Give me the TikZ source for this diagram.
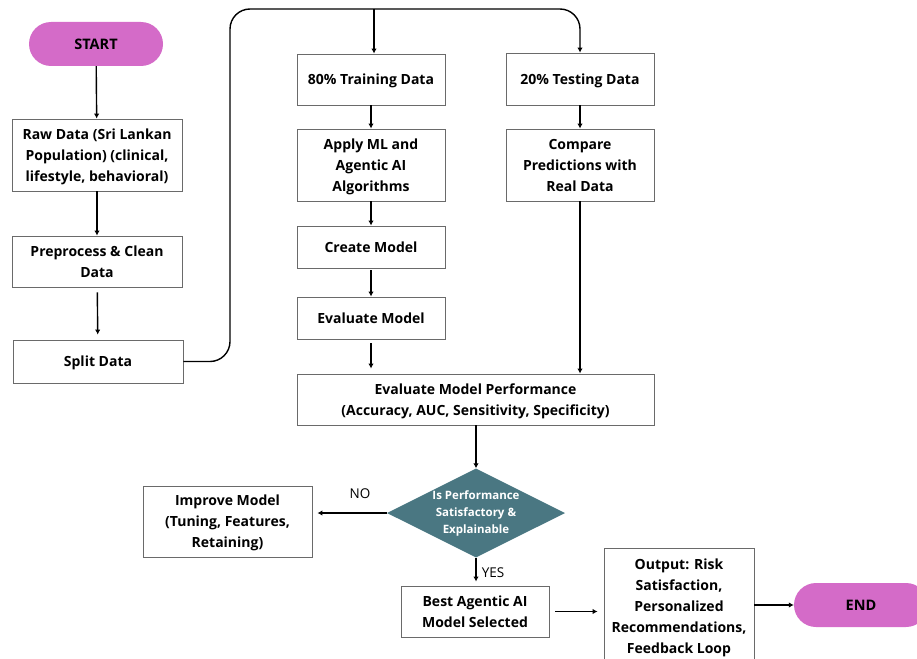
\documentclass[tikz,border=0pt]{standalone}
\usepackage{fontspec}
\setmainfont{Open Sans}
\usetikzlibrary{arrows.meta,positioning,calc,shapes.geometric}
\definecolor{pill}{HTML}{D46BC8}
\definecolor{deep}{HTML}{4A7782}
\definecolor{frame}{HTML}{6A6A6A}

\begin{document}
\begin{tikzpicture}[x=1pt,y=-1pt,>={Latex[length=5pt,width=5.5pt]},
  stepbox/.style={draw=frame,line width=0.9pt,align=center,inner sep=0pt,text depth=0pt,font=\fontsize{14}{21}\selectfont\bfseries},
  term/.style={fill=pill,rounded corners=22pt,minimum width=134,minimum height=44,inner sep=0pt,font=\fontsize{14.5}{16}\selectfont\bfseries},
  decision/.style={diamond,aspect=2,fill=deep,text=white,align=center,inner sep=0pt,minimum width=178,minimum height=89,font=\fontsize{11.5}{17}\selectfont\bfseries},
  flow/.style={->,line width=1.4pt},
  tag/.style={font=\fontsize{13.5}{15}\selectfont}]
  \clip (0,0) rectangle (917,658);
  \node[term] (start) at (96,44) {START};
  \node[stepbox,minimum width=170,minimum height=72] (raw) at (97,155) {Raw Data (Sri Lankan\\Population) (clinical,\\lifestyle, behavioral)};
  \node[stepbox,minimum width=170,minimum height=51] (prep) at (97,261.5) {Preprocess \& Clean\\Data};
  \node[stepbox,minimum width=170,minimum height=43] (split) at (98,361.5) {Split Data};
  \node[stepbox,minimum width=148,minimum height=51] (train) at (371,79.5) {80\% Training Data};
  \node[stepbox,minimum width=148,minimum height=72] (apply) at (371,165) {Apply ML and\\Agentic AI\\Algorithms};
  \node[stepbox,minimum width=148,minimum height=42] (create) at (371,247) {Create Model};
  \node[stepbox,minimum width=148,minimum height=42] (evalm) at (371,318) {Evaluate Model};
  \node[stepbox,minimum width=148,minimum height=52] (test) at (580,79) {20\% Testing Data};
  \node[stepbox,minimum width=148,minimum height=72] (compare) at (580,165) {Compare\\Predictions with\\Real Data};
  \node[stepbox,minimum width=357,minimum height=51] (perf) at (475.5,399.5) {Evaluate Model Performance\\(Accuracy, AUC, Sensitivity, Specificity)};
  \node[decision] (check) at (476,513) {Is Performance\\Satisfactory \&\\Explainable};
  \node[stepbox,minimum width=169,minimum height=71] (improve) at (227.5,521.5) {Improve Model\\(Tuning, Features,\\Retaining)};
  \node[stepbox,minimum width=148,minimum height=51] (best) at (475,611.5) {Best Agentic AI\\Model Selected};
  \node[stepbox,minimum width=150,minimum height=116] (output) at (679,606) {Output: Risk\\Satisfaction,\\Personalized\\Recommendations,\\Feedback Loop};
  \node[term] (end) at (861,605) {END};
  \coordinate (bend) at (230,9);
  \draw[flow] (start) -- (raw);
  \draw[flow] (raw) -- (prep);
  \draw[flow,shorten <=5pt,shorten >=5pt] (prep) -- (split);
  \draw[flow,rounded corners=20pt] (split.east) -| (bend) -| (test.north);
  \draw[flow] ($(train.north |- bend)+(3,0)$) -- ($(train.north)+(3,0)$);
  \draw[flow] (train) -- (apply);
  \draw[flow] (apply) -- (create);
  \draw[flow,shorten <=2pt] (create) -- (evalm);
  \draw[flow,shorten <=4pt,shorten >=5pt] (evalm.south) -- (evalm.south |- perf.north);
  \draw[flow] (test) -- (compare);
  \draw[flow] (compare.south) -- (compare.south |- perf.north);
  \draw[flow] (perf.south -| check.north) -- (check.north);
  \draw[flow,shorten >=5pt] (check.west) -- (improve.east |- check.west);
  \draw[flow,shorten >=4pt] (check.south) -- (best.north -| check.south);
  \draw[flow,shorten <=6pt,shorten >=6pt] (best.east) -- (best.east -| output.west);
  \draw[flow] (output.east |- end.west) -- (end.west);
  \node[tag] (no) at (360,494) {NO};
  \node[tag] (yes) at (493,573) {YES};
\end{tikzpicture}
\end{document}
